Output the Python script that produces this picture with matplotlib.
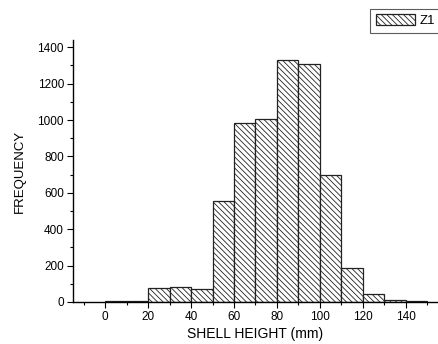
import matplotlib
matplotlib.use("Agg")
import matplotlib.pyplot as plt
from matplotlib.ticker import MultipleLocator

bin_left = [0, 10, 20, 30, 40, 50, 60, 70, 80, 90, 100, 110, 120, 130, 140]
frequency = [3, 3, 75, 80, 70, 553, 985, 1008, 1332, 1308, 697, 187, 42, 10, 3]
xticks = [0, 20, 40, 60, 80, 100, 120, 140]
yticks = [0, 200, 400, 600, 800, 1000, 1200, 1400]

plt.rcParams['font.family'] = ['Liberation Sans', 'DejaVu Sans']
plt.rcParams['hatch.linewidth'] = 0.6

fig = plt.figure(figsize=(4.39, 3.44), dpi=100)
ax = fig.add_axes([73/439, 1-302/344, (438-73)/439, (302-40)/344])

ax.bar(bin_left, frequency, width=10, align='edge', facecolor='white',
       edgecolor='#222222', linewidth=0.9, hatch='\\\\\\\\\\\\', label='Z1')

ax.set_xlim(-15, 155)
ax.set_ylim(0, 1440)
ax.set_xticks(xticks)
ax.set_yticks(yticks)
ax.xaxis.set_minor_locator(MultipleLocator(10))
ax.yaxis.set_minor_locator(MultipleLocator(100))
ax.spines['top'].set_visible(False)
ax.spines['right'].set_visible(False)
for s in ['left', 'bottom']:
    ax.spines[s].set_linewidth(1.0)
ax.tick_params(which='major', direction='out', length=4, width=0.8, labelsize=8.5, pad=2.5)
ax.tick_params(which='minor', direction='out', length=2.5, width=0.8)
ax.set_xlabel('SHELL HEIGHT (mm)', fontsize=10, labelpad=3)
ax.set_ylabel('FREQUENCY', fontsize=9.5, labelpad=8)

leg = fig.legend(loc='upper right', bbox_to_anchor=(440/439, 1-9/344), fontsize=9.5,
                 frameon=True, fancybox=False, edgecolor='#333333',
                 handlelength=3.0, handleheight=0.9, borderpad=0.4, handletextpad=0.3,
                 borderaxespad=0)
leg.get_frame().set_linewidth(0.8)

fig.savefig('out.png', dpi=100)
